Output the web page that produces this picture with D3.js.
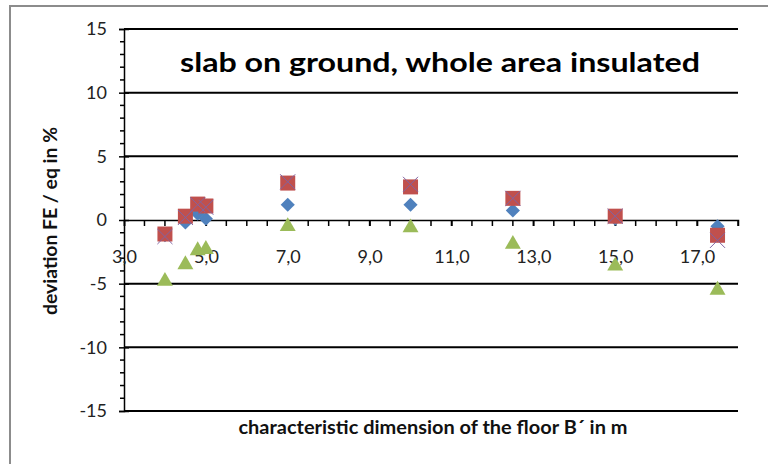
<!DOCTYPE html>
<html>
<head>
<meta charset="utf-8">
<script src="https://cdn.jsdelivr.net/npm/d3@7"></script>
<style>
  html, body { margin: 0; padding: 0; background: #fff; }
  svg { display: block; }
  text { font-family: Lato, "Open Sans", sans-serif; }
</style>
</head>
<body>
<svg id="chart" width="768" height="464"></svg>
<script>
// Characteristic floor dimension B' (m)
const dimB = [4.0, 4.5, 4.8, 5.0, 7.0, 10.0, 12.5, 15.0, 17.5];
// Deviation FE / eq (%) for the four calculation cases
const devBlue   = [-1.2, -0.2, 0.5, 0.1, 1.2, 1.2, 0.75, 0.1, -0.5];
const devRed    = [-1.1, 0.3, 1.25, 1.1, 2.9, 2.6, 1.7, 0.3, -1.2];
const devGreen  = [-4.8, -3.5, -2.4, -2.3, -0.5, -0.6, -1.9, -3.6, -5.5];
const devPurple = [-1.3, 0.2, 1.2, 1.0, 3.0, 2.8, 1.7, 0.3, -1.6];
const yTicks = [-15, -10, -5, 0, 5, 10, 15];
const xTicks = [3, 5, 7, 9, 11, 13, 15, 17];
const titleText = "slab on ground, whole area insulated";
const xTitle = "characteristic dimension of the floor B\u00b4 in m";
const yTitle = "deviation FE / eq in %";

const svg = d3.select("#chart");

// chart frame
svg.append("rect").attr("x", 10).attr("y", 6).attr("width", 800).attr("height", 500)
  .attr("fill", "#fff").attr("stroke", "#8c8c8c").attr("stroke-width", 2);

const x = d3.scaleLinear().domain([3, 18]).range([124, 738]);
const y = d3.scaleLinear().domain([-15, 15]).range([411, 29]);

// horizontal gridlines
svg.append("g").selectAll("line").data(yTicks.filter(v => v !== 0)).join("line")
  .attr("x1", x(3)).attr("x2", x(18))
  .attr("y1", d => y(d)).attr("y2", d => y(d))
  .attr("stroke", "#000").attr("stroke-width", 2);

// y axis with minor ticks every 1 %
const yMinor = d3.range(-15, 16, 1).filter(v => v % 5 !== 0);
svg.append("g").selectAll("line").data(yMinor).join("line")
  .attr("x1", x(3) - 4).attr("x2", x(3))
  .attr("y1", d => y(d)).attr("y2", d => y(d))
  .attr("stroke", "#000").attr("stroke-width", 1.5);

const yAxis = svg.append("g").attr("transform", `translate(${x(3)},0)`)
  .call(d3.axisLeft(y).tickValues(yTicks).tickSize(5).tickPadding(12).tickFormat(d => String(d)));
yAxis.select(".domain").attr("stroke", "#000").attr("stroke-width", 1.5);
yAxis.selectAll(".tick line").attr("x2", -5).attr("x1", 5).attr("stroke-width", 1.5);
yAxis.selectAll(".tick text").attr("font-size", 18).attr("fill", "#222")
  .attr("font-family", "Lato, sans-serif").attr("x", -17);

// x axis crossing at 0 with ticks every 0.5 m
const xMinor = d3.range(3.5, 18.01, 0.5);
svg.append("g").selectAll("line").data(xMinor).join("line")
  .attr("x1", d => x(d)).attr("x2", d => x(d))
  .attr("y1", y(0)).attr("y2", y(0) + 6)
  .attr("stroke", "#000").attr("stroke-width", 1.5);

const xAxis = svg.append("g").attr("transform", `translate(0,${y(0)})`)
  .call(d3.axisBottom(x).tickValues(xTicks).tickSize(6).tickPadding(24)
    .tickFormat(d => d.toFixed(1).replace(".", ",")));
xAxis.select(".domain").attr("stroke", "#000").attr("stroke-width", 1.5);
xAxis.selectAll(".tick line").attr("stroke-width", 1.5);
xAxis.selectAll(".tick text").attr("font-size", 18).attr("fill", "#222")
  .attr("font-family", "Lato, sans-serif");

// data markers
const pts = arr => arr.map((v, i) => ({ b: dimB[i], v }));

svg.append("g").selectAll("path").data(pts(devBlue)).join("path")
  .attr("d", d3.symbol(d3.symbolSquare, 100))
  .attr("transform", d => `translate(${x(d.b)},${y(d.v)}) rotate(45)`)
  .attr("fill", "#4f81bd");

svg.append("g").selectAll("path").data(pts(devRed)).join("path")
  .attr("d", d3.symbol(d3.symbolSquare, 225))
  .attr("transform", d => `translate(${x(d.b)},${y(d.v)})`)
  .attr("fill", "#c0504d");

svg.append("g").selectAll("path").data(pts(devGreen)).join("path")
  .attr("d", d3.symbol(d3.symbolTriangle, 110))
  .attr("transform", d => `translate(${x(d.b)},${y(d.v)})`)
  .attr("fill", "#9bbb59");

const xShape = d3.symbolX || d3.symbolCross;
svg.append("g").selectAll("path").data(pts(devPurple)).join("path")
  .attr("d", d3.symbol(xShape, 150))
  .attr("transform", d => `translate(${x(d.b)},${y(d.v)})`)
  .attr("fill", "none").attr("stroke", "#8064a2").attr("stroke-width", 1);

// titles
svg.append("text").attr("x", 440).attr("y", 72).attr("text-anchor", "middle")
  .attr("font-size", 27).attr("font-weight", "bold").attr("fill", "#000")
  .attr("textLength", 520).attr("lengthAdjust", "spacingAndGlyphs")
  .text(titleText);

svg.append("text").attr("x", 433).attr("y", 434).attr("text-anchor", "middle")
  .attr("font-size", 18).attr("font-weight", "bold").attr("fill", "#111")
  .attr("textLength", 389).attr("lengthAdjust", "spacingAndGlyphs")
  .text(xTitle);

svg.append("text").attr("transform", "translate(57,221) rotate(-90)")
  .attr("text-anchor", "middle")
  .attr("font-size", 18).attr("font-weight", "bold").attr("fill", "#111")
  .attr("textLength", 188).attr("lengthAdjust", "spacingAndGlyphs")
  .text(yTitle);
</script>
</body>
</html>
